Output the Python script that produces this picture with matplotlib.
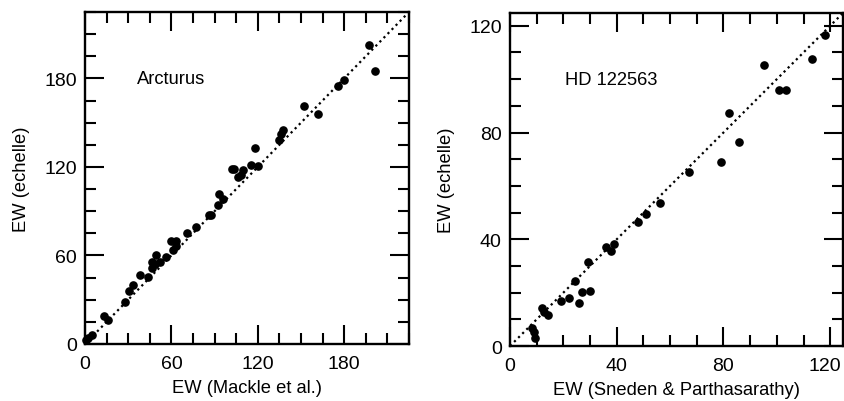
import numpy as np
import matplotlib
matplotlib.use('Agg')
import matplotlib.pyplot as plt
import matplotlib.transforms as mtransforms
from matplotlib.ticker import MultipleLocator

plt.rcParams['font.family'] = ['Liberation Sans', 'DejaVu Sans']

# Arcturus: EW (Mackle et al.) vs EW (echelle)
arc_x = [0.5, 2.3, 4.6, 13.1, 16.1, 27.7, 30.7, 33.4, 38.0, 43.8, 46.2, 46.8, 49.6,
         51.9, 48.5, 56.0, 59.6, 63.5, 60.8, 63.0, 70.6, 77.3, 87.7, 86.0, 92.3, 93.0,
         95.7, 102.2, 103.5, 106.1, 108.4, 110.0, 115.3, 120.0, 118.1, 134.9, 136.0,
         137.2, 152.2, 161.5, 176.0, 179.9, 197.2, 201.4]
arc_y = [2.5, 3.9, 6.1, 18.8, 16.3, 28.3, 36.2, 40.1, 46.9, 45.3, 51.4, 55.9, 60.5,
         55.9, 54.5, 58.9, 69.9, 69.7, 64.0, 66.3, 75.1, 79.3, 87.2, 87.6, 94.0, 101.9,
         98.5, 118.4, 118.3, 113.2, 114.8, 117.7, 121.1, 120.7, 132.5, 138.1, 142.5,
         144.8, 161.5, 156.0, 174.8, 178.9, 202.6, 185.3]

# HD 122563: EW (Sneden & Parthasarathy) vs EW (echelle)
hd_x = [8.1, 9.1, 9.5, 11.8, 12.8, 14.1, 19.1, 22.2, 25.9, 27.0, 29.9, 24.3, 29.3,
        35.9, 38.0, 39.0, 48.0, 51.1, 56.1, 67.0, 78.9, 82.0, 86.0, 95.1, 100.7,
        103.4, 113.0, 118.0]
hd_y = [6.6, 5.1, 3.0, 14.1, 12.9, 11.7, 16.8, 17.9, 16.0, 20.1, 20.7, 24.3, 31.6,
        37.0, 35.5, 38.2, 46.6, 49.5, 53.5, 65.1, 68.9, 87.4, 76.6, 105.4, 96.0,
        96.0, 107.5, 116.4]

panels = [
    dict(x=arc_x, y=arc_y, lim=225, major=60, minor=15, name='Arcturus',
         name_xy=(36, 180), xlabel='EW (Mackle et al.)',
         rect=[0.1007, 0.1418, 0.3839, 0.8259]),
    dict(x=hd_x, y=hd_y, lim=124.8, major=40, minor=10, name='HD 122563',
         name_xy=(20.5, 100), xlabel='EW (Sneden & Parthasarathy)',
         rect=[0.6043, 0.1368, 0.3945, 0.8284]),
]

fig = plt.figure(figsize=(8.44, 4.02), dpi=100)

for p in panels:
    ax = fig.add_axes(p['rect'])
    ax.plot([0, p['lim']], [0, p['lim']], color='black', lw=1.6,
            linestyle=(0, (1, 1.6)), zorder=1)
    ax.scatter(p['x'], p['y'], s=27, color='black', zorder=2, clip_on=False)
    ax.set_xlim(0, p['lim'])
    ax.set_ylim(0, p['lim'])
    ax.xaxis.set_major_locator(MultipleLocator(p['major']))
    ax.yaxis.set_major_locator(MultipleLocator(p['major']))
    ax.xaxis.set_minor_locator(MultipleLocator(p['minor']))
    ax.yaxis.set_minor_locator(MultipleLocator(p['minor']))
    ax.tick_params(which='both', direction='in', top=True, right=True,
                   width=1.5, labelsize=14, pad=6)
    ax.tick_params(axis='x', which='major', pad=8)
    ax.tick_params(which='major', length=14)
    ax.tick_params(which='minor', length=8)
    for s in ax.spines.values():
        s.set_linewidth(1.7)
    ax.text(p['name_xy'][0], p['name_xy'][1], p['name'], fontsize=13.2,
            va='center', ha='left')
    ax.set_xlabel(p['xlabel'], fontsize=13.2, labelpad=5)
    ax.set_ylabel('EW (echelle)', fontsize=13.2, labelpad=10)

# keep the last x tick label of the right panel inside the figure edge
fig.canvas.draw()
last = [t for t in ax.get_xticklabels() if t.get_text() == '120'][0]
last.set_transform(last.get_transform() +
                   mtransforms.ScaledTranslation(-5 / 100, 0, fig.dpi_scale_trans))

fig.savefig('out.png', dpi=100)
